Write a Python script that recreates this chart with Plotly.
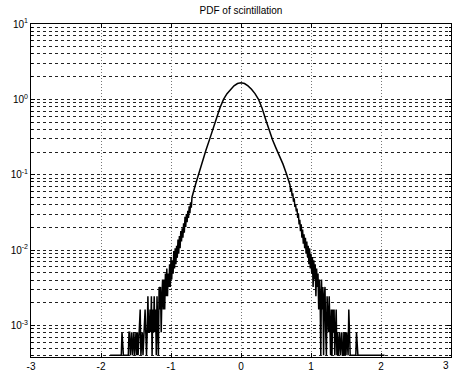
import numpy as np
import plotly.graph_objects as go

TITLE = "PDF of scintillation"
COUNT_UNIT = 8.1e-4   # pdf value of a single count in one bin
FLOOR = 4.0e-4        # empty bins are drawn at this level
BIN = 0.01

# left tail: bin counts from x=-1.87 to x=-0.70
left_start = -1.87
left_counts = (
    [0] * 17 + [1] + [0] * 9 +
    [1, 1, 0, 1, 1, 0, 1, 1, 0, 1] +
    [1, 0, 1, 0, 1, 1, 2, 0, 1, 1] +
    [0, 1, 1, 2, 1, 0, 1, 3, 1, 1] +
    [2, 1, 3, 0, 2, 1, 3, 1, 2, 0] +
    [3, 1, 0, 4, 2, 4, 1, 3, 5, 2] +
    [5, 2, 6, 3, 7, 3, 6, 4, 8, 4] +
    [10, 5, 9, 6, 12, 7, 13, 8, 14, 10] +
    [17, 11, 19, 13, 22, 16, 24, 18, 28, 21] +
    [34, 25, 37, 29, 41, 33, 47, 38, 53, 45] +
    [62]
)

# central part of the pdf
center_x = [-0.65, -0.60, -0.55, -0.50, -0.45, -0.40, -0.35, -0.30, -0.25,
            -0.20, -0.15, -0.10, -0.05, 0.00, 0.05, 0.10, 0.15, 0.20, 0.25,
            0.30, 0.35, 0.40, 0.45, 0.50, 0.55, 0.60, 0.65]
center_pdf = [0.074, 0.107, 0.153, 0.212, 0.292, 0.395, 0.560, 0.775, 1.00,
              1.19, 1.36, 1.51, 1.62, 1.66, 1.62, 1.51, 1.36, 1.19, 1.00,
              0.77, 0.55, 0.39, 0.29, 0.225, 0.180, 0.138, 0.102]

# right tail: bin counts from x=0.70 to x=2.05
right_start = 0.70
right_counts = (
    [90, 74, 82, 64, 70, 54, 60, 46, 50, 40] +
    [44, 33, 38, 27, 31, 22, 27, 18, 23, 15] +
    [20, 13, 18, 11, 16, 10, 14, 8, 13, 7] +
    [11, 6, 10, 4, 9, 5, 8, 3, 7, 4] +
    [6, 2, 5, 3, 0, 5, 2, 4, 0, 3] +
    [4, 1, 0, 3, 2, 1, 3, 1, 0, 2] +
    [0, 2, 1, 2, 0, 1, 2, 0, 1, 0] +
    [1, 1, 0, 1, 1, 0, 0, 1, 0, 1] +
    [0, 1, 0, 0, 2, 0, 0, 0, 0, 0] +
    [0, 0, 0, 0, 0, 1, 0, 0, 0, 0] +
    [0] * 36
)

x_ticks = [-3, -2, -1, 0, 1, 2, 3]
x_ticktext = ["-3", "-2", "-1", "0", "1", "2", "3"]
y_ticks = [10, 1, 0.1, 0.01, 0.001]
y_ticktext = ["10<sup>1</sup>", "10<sup>0</sup>", "10<sup>-1</sup>",
              "10<sup>-2</sup>", "10<sup>-3</sup>"]


def tail_pdf(counts):
    c = np.asarray(counts, dtype=float)
    v = c * COUNT_UNIT
    return np.where(c > 0, v, FLOOR)


lx = left_start + BIN * np.arange(len(left_counts))
rx = right_start + BIN * np.arange(len(right_counts))
x = np.concatenate([lx, np.array(center_x), rx])
y = np.concatenate([tail_pdf(left_counts), np.array(center_pdf), tail_pdf(right_counts)])

fig = go.Figure()
fig.add_trace(go.Scatter(x=x, y=y, mode="lines",
                         line=dict(color="black", width=1.5), hoverinfo="skip"))

font = dict(family="Liberation Sans, Arial, sans-serif", size=10, color="black")

# the last x tick label sits at the very edge of the page; draw it as an
# annotation at the right end of the axis so it is not dropped
axis_ticktext = x_ticktext[:-1] + [""]

fig.update_layout(
    width=453, height=374,
    margin=dict(l=31, r=2, t=24, b=17, autoexpand=False),
    paper_bgcolor="white", plot_bgcolor="white",
    showlegend=False,
    font=font,
    title=dict(text=TITLE, x=0.532, xanchor="center", y=0.972, yanchor="middle",
               font=dict(family="Liberation Sans, Arial, sans-serif", size=10)),
    xaxis=dict(range=[-3, 3], tickvals=x_ticks, ticktext=axis_ticktext,
               showgrid=True, gridcolor="#777777", griddash="1px,2px", gridwidth=1,
               zeroline=False, showline=True, linecolor="black", linewidth=1,
               mirror="allticks", ticks="inside", ticklen=4, tickcolor="black",
               tickfont=font, automargin=False),
    yaxis=dict(type="log", range=[-3.42, 1], tickvals=y_ticks, ticktext=y_ticktext,
               showgrid=True, gridcolor="#222222", griddash="3px,3px", gridwidth=1,
               zeroline=False, showline=True, linecolor="black", linewidth=1,
               mirror="allticks", ticks="inside", ticklen=4, tickcolor="black",
               tickfont=font, automargin=False,
               minor=dict(showgrid=True, gridcolor="#222222", griddash="3px,3px",
                          gridwidth=1, dtick="D1", ticks="inside", ticklen=2,
                          tickcolor="black")),
    annotations=[dict(x=1.0, xref="paper", y=0.0, yref="paper",
                      text=x_ticktext[-1], showarrow=False,
                      xanchor="right", yanchor="top", yshift=-1,
                      font=dict(family="Liberation Sans, Arial, sans-serif",
                                size=10, color="black"))],
)

fig.write_html("out.html",
               config={"displayModeBar": False},
               post_script="document.body.style.margin='0';"
                           "document.documentElement.style.margin='0';")
